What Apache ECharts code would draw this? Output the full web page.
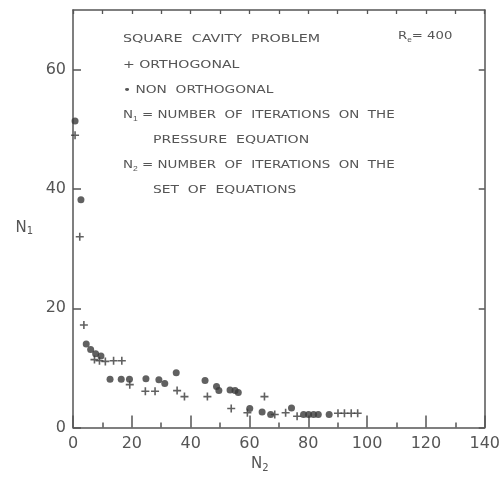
<!DOCTYPE html>
<html>
<head>
    <meta charset="UTF-8">
    <title>Square cavity problem</title>
    <script src="https://cdn.jsdelivr.net/npm/echarts@6/dist/echarts.min.js"></script>
    <style>
        body, html {
            margin: 0;
            background: #fff;
        }
        #main {
            width: 503px;
            height: 478px;
        }
    </style>
</head>
<body>
<div id="main"></div>
<script>
    // + orthogonal grid, [N2, N1]
    var orthogonal = [
        [0.7, 49], [2.3, 32], [3.7, 17.2], [7.3, 11.4], [9.0, 11.2], [11.0, 11.1],
        [13.8, 11.2], [16.6, 11.2], [19.3, 7.2], [24.6, 6.1], [27.9, 6.1],
        [35.4, 6.2], [37.9, 5.2], [45.7, 5.2], [53.8, 3.2], [59.3, 2.5],
        [65.1, 5.2], [68.6, 2.2], [72.3, 2.5], [76.2, 1.9], [90.1, 2.4],
        [92.3, 2.4], [94.6, 2.4], [96.8, 2.4]
    ];
    // • non orthogonal grid
    var nonOrthogonal = [
        [0.7, 51.4], [2.7, 38.2], [4.5, 14], [6.0, 13.1], [7.7, 12.4], [9.5, 12.0],
        [12.6, 8.1], [16.4, 8.1], [19.2, 8.1], [24.8, 8.2], [29.2, 8.0], [31.2, 7.4],
        [35.1, 9.2], [44.9, 7.9], [48.8, 6.9], [49.6, 6.2], [53.4, 6.3], [55.1, 6.2],
        [56.2, 5.9], [60.1, 3.2], [64.3, 2.6], [67.2, 2.2], [74.3, 3.3], [78.4, 2.2],
        [80.1, 2.2], [81.8, 2.2], [83.4, 2.2], [87.1, 2.2]
    ];
    var xTicks = [0, 20, 40, 60, 80, 100, 120, 140];
    var yTicks = [0, 20, 40, 60];

    var ink = '#3a3a3a';
    var txt = '#555';
    var axisCol = '#555';
    var plusPath = 'path://M4 0h2v4h4v2h-4v4h-2v-4h-4v-2h4z';

    var chart = echarts.init(document.getElementById('main'));

    function note(x, y, str, sx) {
        return {
            type: 'text', left: x, top: y - 4, scaleX: sx || 1.28,
            style: {
                text: str, fill: txt,
                font: '11px "DejaVu Sans"',
                rich: {
                    s: { fontSize: 7, fill: txt, verticalAlign: 'bottom', padding: [7, 0, 0, 0] }
                }
            }
        };
    }

    var option = {
        animation: false,
        grid: { left: 73, right: 13, top: 10, bottom: 43 },
        xAxis: [{
            type: 'value', min: 0, max: 140, interval: 20,
            name: 'N{s|2}', nameLocation: 'middle', nameGap: 22,
            nameTextStyle: {
                color: txt, fontSize: 15, fontFamily: 'DejaVu Sans', padding: [0, 38, 0, 0],
                rich: { s: { fontSize: 10, color: txt, padding: [8, 0, 0, 0] } }
            },
            axisLine: { show: true, onZero: false, lineStyle: { color: axisCol, width: 1.5 } },
            axisTick: { show: true, inside: true, length: 12, lineStyle: { color: axisCol, width: 1.5 } },
            minorTick: { show: true, splitNumber: 2, length: 5, lineStyle: { color: axisCol, width: 1.5 } },
            axisLabel: {
                margin: 8, color: txt, fontSize: 16, fontFamily: 'DejaVu Sans',
                formatter: function (v) { return xTicks.indexOf(v) >= 0 ? String(v) : ''; }
            },
            splitLine: { show: false }
        }, {
            type: 'value', position: 'top', min: 0, max: 140, interval: 10,
            axisLine: { show: true, onZero: false, lineStyle: { color: axisCol, width: 1.5 } },
            axisTick: { show: true, inside: true, length: 4, lineStyle: { color: axisCol, width: 1.3 } },
            axisLabel: { show: false },
            splitLine: { show: false }
        }],
        yAxis: [{
            type: 'value', min: 0, max: 70, interval: 20,
            name: 'N{s|1}', nameLocation: 'middle', nameGap: 40, nameRotate: 0,
            nameTextStyle: {
                color: txt, fontSize: 15, fontFamily: 'DejaVu Sans', padding: [18, 0, 0, 0],
                rich: { s: { fontSize: 10, color: txt, padding: [8, 0, 0, 0] } }
            },
            axisLine: { show: true, onZero: false, lineStyle: { color: axisCol, width: 1.5 } },
            axisTick: {
                show: true, inside: true, length: 8, lineStyle: { color: axisCol, width: 1.5 },
                customValues: yTicks
            },
            axisLabel: {
                margin: 7, color: txt, fontSize: 16, fontFamily: 'DejaVu Sans',
                formatter: function (v) { return yTicks.indexOf(v) >= 0 ? String(v) : ''; }
            },
            splitLine: { show: false }
        }, {
            type: 'value', position: 'right', min: 0, max: 70, interval: 20,
            axisLine: { show: true, onZero: false, lineStyle: { color: axisCol, width: 1.5 } },
            axisTick: {
                show: true, inside: true, length: 6, lineStyle: { color: axisCol, width: 1.5 },
                customValues: yTicks
            },
            axisLabel: { show: false },
            splitLine: { show: false }
        }],
        graphic: [
            note(123, 38, 'SQUARE  CAVITY  PROBLEM', 1.3),
            note(398, 35, 'R{s|e}= 400', 1.2),
            note(123, 64, '+ ORTHOGONAL'),
            note(123, 89, '\u2022 NON  ORTHOGONAL', 1.25),
            note(123, 114, 'N{s|1} = NUMBER  OF  ITERATIONS  ON  THE', 1.22),
            note(153, 139, 'PRESSURE  EQUATION'),
            note(123, 164, 'N{s|2} = NUMBER  OF  ITERATIONS  ON  THE', 1.22),
            note(153, 189, 'SET  OF  EQUATIONS', 1.26)
        ],
        series: [{
            name: 'ORTHOGONAL', type: 'scatter',
            symbol: plusPath, symbolSize: 8,
            itemStyle: { color: ink },
            data: orthogonal
        }, {
            name: 'NON ORTHOGONAL', type: 'scatter',
            symbol: 'circle', symbolSize: 7,
            itemStyle: { color: ink },
            data: nonOrthogonal
        }]
    };

    chart.setOption(option);
</script>
</body>
</html>
